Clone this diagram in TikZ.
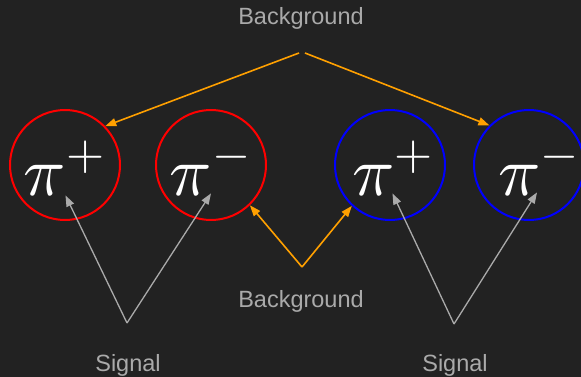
\documentclass[tikz,border=0pt]{standalone}
\usepackage{fontspec}
\setsansfont{Liberation Sans}
\usetikzlibrary{arrows.meta}
\definecolor{bgc}{HTML}{222222}
\definecolor{lbl}{HTML}{AAAAAA}
\definecolor{orng}{HTML}{FFA000}
\definecolor{redc}{HTML}{FF0000}
\definecolor{bluec}{HTML}{0000FF}
\newcommand{\thinsup}[1]{\scalebox{0.7}{$#1$}}
\begin{document}
\begin{tikzpicture}[x=1pt,y=-1pt,
  ring/.style={circle, draw=#1, line width=2pt, minimum size=110pt, inner sep=0pt},
  particle/.style={text=white, inner sep=0pt, anchor=base, scale=7, font=\fontsize{10}{12}\selectfont},
  label/.style={text=lbl, inner sep=0pt, anchor=base, font=\sffamily\fontsize{23.5}{28}\selectfont},
  bgarrow/.style={draw=orng, line width=1.6pt, -{Triangle[length=11pt,width=8pt]}},
  sigarrow/.style={draw=lbl, line width=1.3pt, -{Triangle[length=11pt,width=8pt]}}]
\clip (0,0) rectangle (581,377);
\fill[bgc] (0,0) rectangle (581,377);
\node[ring=redc] (c1) at (65,165) {};
\node[ring=redc] (c2) at (211,165) {};
\node[ring=bluec] (c3) at (390,165) {};
\node[ring=bluec] (c4) at (529,165) {};
\node[particle] (p1) at (66,195) {$\pi^{\thinsup{+}}$};
\node[particle] (p2) at (212,195) {$\pi^{\thinsup{-}}$};
\node[particle] (p3) at (394.5,195) {$\pi^{\thinsup{+}}$};
\node[particle] (p4) at (540.5,195) {$\pi^{\thinsup{-}}$};
\node[label] (bgtop) at (301,25) {Background};
\node[label] (bgbot) at (301,307) {Background};
\node[label] (sigl) at (128,371) {Signal};
\node[label] (sigr) at (455,371) {Signal};
\coordinate (tl) at (299,53);
\coordinate (tr) at (305,53);
\coordinate (ba) at (302,267);
\coordinate (sa) at (127,323);
\coordinate (sb) at (454,324);
\draw[bgarrow] (tl) -- (c1.44);
\draw[bgarrow] (tr) -- (c4.135);
\draw[bgarrow] (ba) -- (c2.-46);
\draw[bgarrow] (ba) -- (c3.-133);
\draw[sigarrow] (sa) -- ([xshift=-0.5pt,yshift=1pt]p1.south);
\draw[sigarrow] (sa) -- ([xshift=-1pt,yshift=3pt]p2.south);
\draw[sigarrow] (sb) -- ([xshift=-2pt,yshift=3pt]p3.south);
\draw[sigarrow] (sb) -- ([xshift=-3.5pt,yshift=4pt]p4.south);
\end{tikzpicture}
\end{document}
